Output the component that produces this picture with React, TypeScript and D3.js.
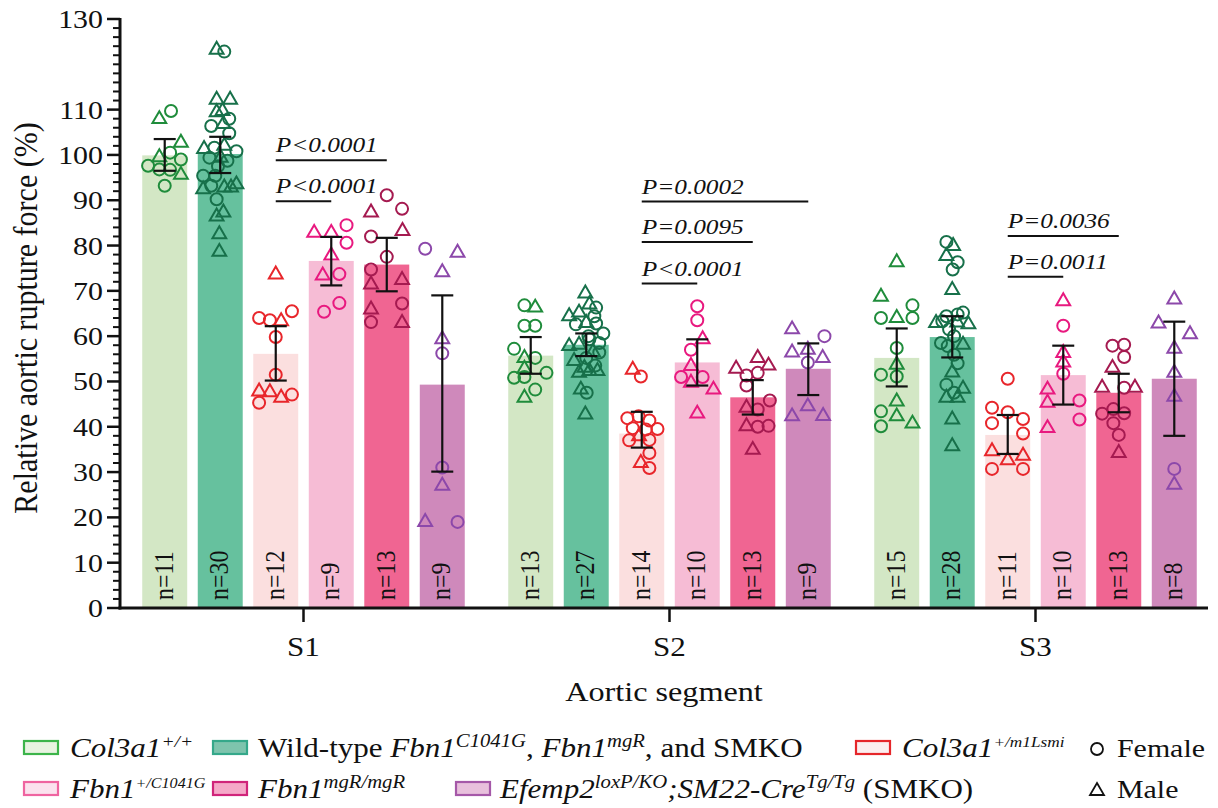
import React from "react";
import * as d3 from "d3";

const segments = ["S1", "S2", "S3"];
const genotypes = ["Col3a1+/+", "WT", "Col3a1+/m1Lsmi", "Fbn1+/C1041G", "Fbn1mgR/mgR", "SMKO"];
const barColors = ["#d3e7c5", "#66c19e", "#fbdfdf", "#f6bcd5", "#f06592", "#cf89bb"];
const pointColors = ["#1f8c3b", "#17704a", "#e8262b", "#e8197f", "#a51a50", "#8c48aa"];

const meanS1 = [99.9, 100.2, 56.1, 76.6, 75.8, 49.3];
const hiS1 = [103.5, 104, 62.2, 81.9, 81.7, 69];
const loS1 = [96.5, 96, 50.2, 71.2, 69.9, 30.1];
const meanS2 = [55.7, 58.1, 38.5, 54.2, 46.5, 52.8];
const hiS2 = [59.8, 60.6, 43.3, 59.3, 50.3, 58.4];
const loS2 = [51.7, 55.6, 35.4, 49.1, 42.7, 47];
const meanS3 = [55.2, 59.8, 38.2, 51.4, 47.5, 50.6];
const hiS3 = [61.7, 64.4, 42.6, 57.9, 51.7, 63.2];
const loS3 = [48.9, 55.3, 34, 44.9, 43.2, 38];

// points: [jitter (fraction of bar width), value, sex]
type P = [number, number, string];
const ptsS1: P[][] = [
  [[-0.12,107.9,"M"],[0.14,109.7,"F"],[0.36,102.7,"M"],[-0.12,99.5,"M"],[0.12,100.5,"F"],[0.36,99,"F"],[-0.37,97.6,"F"],[-0.12,96.8,"F"],[0.12,96.7,"F"],[0.36,95.6,"M"],[0,93.2,"F"]],
  [[-0.08,123.2,"M"],[0.09,122.8,"F"],[-0.08,112.2,"M"],[0.22,112.2,"M"],[-0.08,109.4,"M"],[0.05,109.7,"M"],[0.2,108,"F"],[-0.2,106.4,"F"],[0.07,106.8,"M"],[0.2,104.8,"F"],[-0.36,101.3,"M"],[-0.13,101.6,"F"],[0.09,102,"M"],[0.36,100.8,"F"],[-0.24,99.4,"F"],[0.01,99.4,"M"],[0.16,98.7,"F"],[-0.05,97.5,"F"],[-0.38,95.4,"F"],[-0.11,95.4,"F"],[-0.38,92.4,"M"],[-0.2,93.2,"F"],[0.09,92.8,"M"],[0.24,92.8,"M"],[0.36,93.5,"M"],[-0.08,90.2,"F"],[0.07,87.3,"M"],[-0.08,86.4,"M"],[-0.02,82.5,"M"],[-0.02,78.6,"M"]],
  [[0,73.6,"M"],[-0.37,64,"F"],[-0.13,63.5,"F"],[0.12,63.3,"M"],[0.36,65.5,"F"],[0,59.8,"F"],[0,51.5,"F"],[-0.37,47.8,"M"],[-0.13,47.6,"M"],[0.12,46.4,"M"],[0.36,47.1,"F"],[-0.37,45.3,"F"]],
  [[-0.38,82.8,"M"],[0,82.8,"M"],[0.34,84.5,"F"],[0.34,80.6,"F"],[0,77.8,"M"],[-0.19,73.4,"M"],[0.18,73.7,"F"],[-0.16,65.4,"F"],[0.18,67.3,"F"]],
  [[0,91.1,"F"],[-0.35,87.3,"M"],[0.34,88.1,"F"],[-0.35,82,"F"],[0.35,83.2,"M"],[0,77.5,"F"],[-0.35,74.7,"F"],[-0.35,71.4,"M"],[0.34,72.4,"M"],[0.34,67.2,"F"],[-0.35,65.9,"M"],[-0.35,63.1,"F"],[0.34,62.9,"M"]],
  [[-0.38,79.3,"F"],[0.34,78.4,"M"],[0,74.1,"M"],[0,59.3,"M"],[0,56.2,"F"],[0,31,"F"],[0,27,"M"],[-0.38,19,"M"],[0.34,19,"F"]],
];
const ptsS2: P[][] = [
  [[-0.14,66.8,"F"],[0.1,66.3,"M"],[-0.14,62.3,"F"],[0.1,62.3,"F"],[-0.37,57.2,"F"],[-0.14,55.2,"M"],[0.1,55.2,"F"],[-0.14,52.8,"M"],[-0.37,50.8,"F"],[-0.14,51,"F"],[0.35,51.9,"F"],[0.1,48.2,"F"],[-0.14,46.4,"M"]],
  [[-0.02,69.4,"M"],[0.22,66.3,"F"],[0.07,67,"M"],[-0.38,64.4,"M"],[-0.16,65.2,"M"],[0.18,64.4,"F"],[-0.23,62.6,"F"],[0,62.9,"M"],[0.22,62.8,"F"],[0.38,60.6,"F"],[0.05,60,"F"],[-0.38,57.8,"M"],[-0.16,58.1,"M"],[0.07,59.3,"F"],[0.29,58.5,"F"],[0.15,56.5,"M"],[-0.27,54.5,"M"],[0,55.2,"F"],[0.29,56.4,"F"],[0.2,53.5,"F"],[-0.04,53,"M"],[-0.16,51.9,"M"],[0.07,52.3,"M"],[0.25,52.3,"M"],[-0.12,48.2,"M"],[0.01,47.5,"F"],[-0.02,42.7,"M"]],
  [[-0.2,52.6,"M"],[-0.02,51.1,"F"],[-0.32,41.9,"F"],[-0.07,42.3,"F"],[0.17,41.4,"F"],[-0.2,39.7,"F"],[0.09,39.4,"F"],[0.35,39.5,"F"],[-0.06,37.9,"M"],[-0.28,37,"F"],[0.17,37.1,"F"],[0.17,34.2,"F"],[-0.02,32,"M"],[0.17,30.9,"F"]],
  [[0,66.6,"F"],[0,63.5,"F"],[0.12,59.3,"M"],[-0.14,57,"F"],[-0.14,53.4,"M"],[-0.36,51,"F"],[0.12,51,"F"],[-0.14,49.7,"M"],[0.36,48.2,"M"],[0,42.9,"M"]],
  [[0.11,55.2,"M"],[-0.37,52.8,"M"],[0.35,53.5,"M"],[0.11,51.9,"F"],[-0.14,51.3,"F"],[-0.14,49.1,"F"],[-0.14,44.2,"M"],[0.38,45.8,"F"],[0.11,43.8,"F"],[-0.14,40.1,"M"],[0.11,40,"F"],[0.35,40.2,"F"],[0,34.9,"M"]],
  [[-0.36,61.5,"M"],[0.36,60,"F"],[-0.36,56.4,"M"],[-0.01,57,"M"],[0.32,55.2,"M"],[-0.01,54.2,"F"],[-0.01,44.5,"M"],[-0.36,42.3,"M"],[0.33,42.4,"M"]],
];
const ptsS3: P[][] = [
  [[0,76.3,"M"],[-0.35,68.7,"M"],[-0.35,64,"F"],[0,64,"M"],[0.35,66.8,"F"],[0.35,64,"F"],[0,57.4,"F"],[0,53.7,"M"],[-0.35,51.5,"F"],[0,51.1,"F"],[0,45.6,"M"],[-0.35,43.4,"F"],[0,42.3,"M"],[-0.35,40.1,"F"],[0.35,40.7,"M"]],
  [[-0.13,80.8,"F"],[0.02,79.9,"M"],[-0.13,77.7,"M"],[0.12,76.3,"F"],[0.01,74.7,"F"],[0,70.2,"M"],[0.24,65.2,"F"],[0.12,64.8,"F"],[-0.13,64.4,"F"],[-0.36,62.9,"M"],[-0.22,63.3,"F"],[0.36,62.6,"M"],[0.11,63,"M"],[-0.07,61.5,"F"],[0.04,60,"F"],[-0.25,58.5,"F"],[0.24,58.1,"M"],[-0.1,57.8,"F"],[0.04,55.9,"F"],[0.12,54,"F"],[0,52,"M"],[-0.13,49.3,"F"],[0.24,48.4,"M"],[-0.13,46.4,"M"],[0.12,46.4,"M"],[0.04,47.5,"F"],[0,41.6,"M"],[0,35.7,"M"]],
  [[0,50.6,"F"],[-0.35,44.2,"F"],[0,43.2,"F"],[0.34,41.7,"F"],[-0.35,40.8,"F"],[0.34,38.5,"F"],[-0.35,34.6,"M"],[0,32.6,"M"],[0.34,33.6,"M"],[-0.35,30.7,"F"],[0.34,30.7,"F"]],
  [[0,67.7,"M"],[0,62.3,"F"],[0,56.3,"M"],[0,54.2,"M"],[0,51.7,"F"],[-0.35,48.2,"M"],[-0.35,45.3,"M"],[0.36,45.8,"F"],[0.36,41.6,"F"],[-0.35,39.7,"M"]],
  [[-0.14,57.9,"F"],[0.12,58.1,"F"],[0.12,55.4,"F"],[-0.14,53,"M"],[-0.37,48.6,"M"],[0.12,48.6,"F"],[0.36,48.6,"M"],[-0.37,42.9,"F"],[-0.12,43.9,"F"],[0.12,43,"F"],[-0.12,40.8,"F"],[0,38.2,"F"],[0,34.2,"M"]],
  [[0,68.1,"M"],[-0.35,62.8,"M"],[0.35,60.4,"M"],[0,57.2,"M"],[0,51.9,"M"],[0,46.6,"M"],[0,30.7,"F"],[0,27.2,"M"]],
];

// significance brackets: [segment, fromGenotypeIdx, toGenotypeIdx, label, bracket height]
const brackets: [string, number, number, string, number][] = [
  ["S1", 2, 4, "P<0.0001", 98.8],
  ["S1", 2, 3, "P<0.0001", 89.8],
  ["S2", 2, 5, "P=0.0002", 89.7],
  ["S2", 2, 4, "P=0.0095", 80.8],
  ["S2", 2, 3, "P<0.0001", 71.6],
  ["S3", 2, 4, "P=0.0036", 82.1],
  ["S3", 2, 3, "P=0.0011", 73.1],
];

const yTicks = [0, 10, 20, 30, 40, 50, 60, 70, 80, 90, 100, 110, 130];

const means = [meanS1, meanS2, meanS3];
const his = [hiS1, hiS2, hiS3];
const los = [loS1, loS2, loS3];
const pts = [ptsS1, ptsS2, ptsS3];

const FONT = "'Liberation Serif', 'Times New Roman', serif";
const SX = 1.15;

function T(props: any) {
  const { x, y, size, anchor, rotate, italic, children, fill } = props;
  return (
    <text
      transform={`translate(${x},${y}) scale(${SX},1)` + (rotate ? ` rotate(${rotate})` : "")}
      fontSize={size}
      textAnchor={anchor || "start"}
      fontStyle={italic ? "italic" : "normal"}
      fontFamily={FONT}
      fill={fill || "#111"}
    >
      {children}
    </text>
  );
}

function Marker({ x, y, sex, color, r = 6 }: any) {
  if (sex === "F") return <circle cx={x} cy={y} r={r} fill="none" stroke={color} strokeWidth={2} />;
  const s = r * 2.3;
  const h = (s * Math.sqrt(3)) / 2;
  const d = `M${x},${y - (2 * h) / 3}L${x + s / 2},${y + h / 3}L${x - s / 2},${y + h / 3}Z`;
  return <path d={d} fill="none" stroke={color} strokeWidth={2} strokeLinejoin="miter" />;
}

export default function App() {
  const W = 1218, H = 808;
  const y = d3.scaleLinear().domain([0, 130]).range([608, 19]);
  const x0 = d3.scaleBand().domain(segments).range([120.5, 1218.5]).paddingInner(0.09).paddingOuter(0.045);
  const x1 = d3.scaleBand().domain(genotypes).range([0, x0.bandwidth()]).paddingInner(0.19).paddingOuter(0.095);
  const bw = x1.bandwidth();
  const cx = (si: number, gi: number) => (x0(segments[si]) as number) + (x1(genotypes[gi]) as number) + bw / 2;

  const minor = d3.range(0, 131, 2).filter((v) => v % 10 !== 0 || v === 120);
  const axisX = 120;

  return (
    <svg width={W} height={H} style={{ position: "absolute", left: 0, top: 0, background: "#fff" }}>
      <rect width={W} height={H} fill="#fff" />
      {segments.map((s, si) =>
        genotypes.map((g, gi) => (
          <rect key={s + g} x={cx(si, gi) - bw / 2} y={y(means[si][gi])} width={bw} height={y(0) - y(means[si][gi])} fill={barColors[gi]} />
        ))
      )}
      {segments.map((s, si) =>
        genotypes.map((g, gi) => (
          <T key={"n" + s + g} x={cx(si, gi) + 8} y={600} size={24} rotate={-90}>
            {"n=" + pts[si][gi].length}
          </T>
        ))
      )}
      {segments.map((s, si) =>
        genotypes.map((g, gi) =>
          pts[si][gi].map((p, k) => (
            <Marker key={s + g + k} x={cx(si, gi) + p[0] * bw} y={y(p[1])} sex={p[2]} color={pointColors[gi]} />
          ))
        )
      )}
      {segments.map((s, si) =>
        genotypes.map((g, gi) => {
          const c = cx(si, gi);
          return (
            <g key={"e" + s + g} stroke="#111" strokeWidth={2.2}>
              <line x1={c} x2={c} y1={y(his[si][gi])} y2={y(los[si][gi])} />
              <line x1={c - 11} x2={c + 11} y1={y(his[si][gi])} y2={y(his[si][gi])} />
              <line x1={c - 11} x2={c + 11} y1={y(los[si][gi])} y2={y(los[si][gi])} />
            </g>
          );
        })
      )}
      {brackets.map((b, i) => {
        const si = segments.indexOf(b[0]);
        const xa = cx(si, b[1]);
        const xb = cx(si, b[2]);
        return (
          <g key={"b" + i}>
            <line x1={xa} x2={xb} y1={y(b[4])} y2={y(b[4])} stroke="#111" strokeWidth={2} />
            <T x={xa} y={y(b[4]) - 8} size={22} italic>
              {b[3]}
            </T>
          </g>
        );
      })}
      <line x1={axisX} x2={axisX} y1={y(130) - 1} y2={y(0) + 1.5} stroke="#111" strokeWidth={3} />
      {yTicks.map((t) => (
        <g key={"t" + t}>
          <line x1={axisX - 13} x2={axisX} y1={y(t)} y2={y(t)} stroke="#111" strokeWidth={2.5} />
          <T x={axisX - 17} y={y(t) + 9} size={26} anchor="end">
            {t}
          </T>
        </g>
      ))}
      {minor.map((t) => (
        <line key={"m" + t} x1={axisX - 7} x2={axisX} y1={y(t)} y2={y(t)} stroke="#111" strokeWidth={2} />
      ))}
      <T x={37} y={318} size={30} anchor="middle" rotate={-90}>
        Relative aortic rupture force (%)
      </T>
      <line x1={axisX - 1.5} x2={1208} y1={y(0)} y2={y(0)} stroke="#111" strokeWidth={3} />
      {segments.map((s) => {
        const c = (x0(s) as number) + x0.bandwidth() / 2;
        return (
          <g key={"x" + s}>
            <line x1={c} x2={c} y1={y(0)} y2={y(0) + 14} stroke="#111" strokeWidth={2.5} />
            <T x={c} y={656} size={27} anchor="middle">
              {s}
            </T>
          </g>
        );
      })}
      <T x={664} y={701} size={28} anchor="middle">
        Aortic segment
      </T>
      <Legend />
    </svg>
  );
}

function Swatch({ x, y, stroke, fill }: any) {
  return <rect x={x} y={y} width={34} height={13} fill={fill} stroke={stroke} strokeWidth={2.2} />;
}

const LS = 27;
const UP = -10;

function Sup({ size, children }: any) {
  return (
    <tspan dy={UP} fontSize={size} fontStyle="italic">
      {children}
    </tspan>
  );
}

function Legend() {
  const r1 = 757, r2 = 798;
  return (
    <g>
      <Swatch x={24} y={741} stroke="#3cb44a" fill="#e8f3e1" />
      <T x={70} y={r1} size={LS}>
        <tspan fontStyle="italic">Col3a1</tspan>
        <Sup size={17}>+/+</Sup>
      </T>
      <Swatch x={213} y={741} stroke="#35a88a" fill="#7ec4ad" />
      <T x={258} y={r1} size={LS}>
        <tspan>Wild-type </tspan>
        <tspan fontStyle="italic">Fbn1</tspan>
        <Sup size={18}>C1041G</Sup>
        <tspan dy={-UP}>, </tspan>
        <tspan fontStyle="italic">Fbn1</tspan>
        <Sup size={18}>mgR</Sup>
        <tspan dy={-UP}>, and SMKO</tspan>
      </T>
      <Swatch x={856} y={741} stroke="#e5262a" fill="#fbeeef" />
      <T x={902} y={r1} size={LS}>
        <tspan fontStyle="italic">Col3a1</tspan>
        <Sup size={15}>+/m1Lsmi</Sup>
      </T>
      <circle cx={1097} cy={749} r={6} fill="none" stroke="#111" strokeWidth={1.8} />
      <T x={1117} y={r1} size={26}>Female</T>

      <Swatch x={24} y={782} stroke="#ef64a0" fill="#fbe2ee" />
      <T x={70} y={r2} size={LS}>
        <tspan fontStyle="italic">Fbn1</tspan>
        <Sup size={14}>+/C1041G</Sup>
      </T>
      <Swatch x={213} y={782} stroke="#d0247a" fill="#f5a8c8" />
      <T x={258} y={r2} size={LS}>
        <tspan fontStyle="italic">Fbn1</tspan>
        <Sup size={18}>mgR/mgR</Sup>
      </T>
      <Swatch x={456} y={782} stroke="#a558a8" fill="#e8c0dc" />
      <T x={500} y={r2} size={LS}>
        <tspan fontStyle="italic">Efemp2</tspan>
        <Sup size={18}>loxP/KO</Sup>
        <tspan dy={-UP} fontStyle="italic">;SM22-Cre</tspan>
        <Sup size={18}>Tg/Tg</Sup>
        <tspan dy={-UP}> (SMKO)</tspan>
      </T>
      <path d="M1097,783L1104,795L1090,795Z" fill="none" stroke="#111" strokeWidth={1.8} />
      <T x={1117} y={r2} size={26}>Male</T>
    </g>
  );
}
